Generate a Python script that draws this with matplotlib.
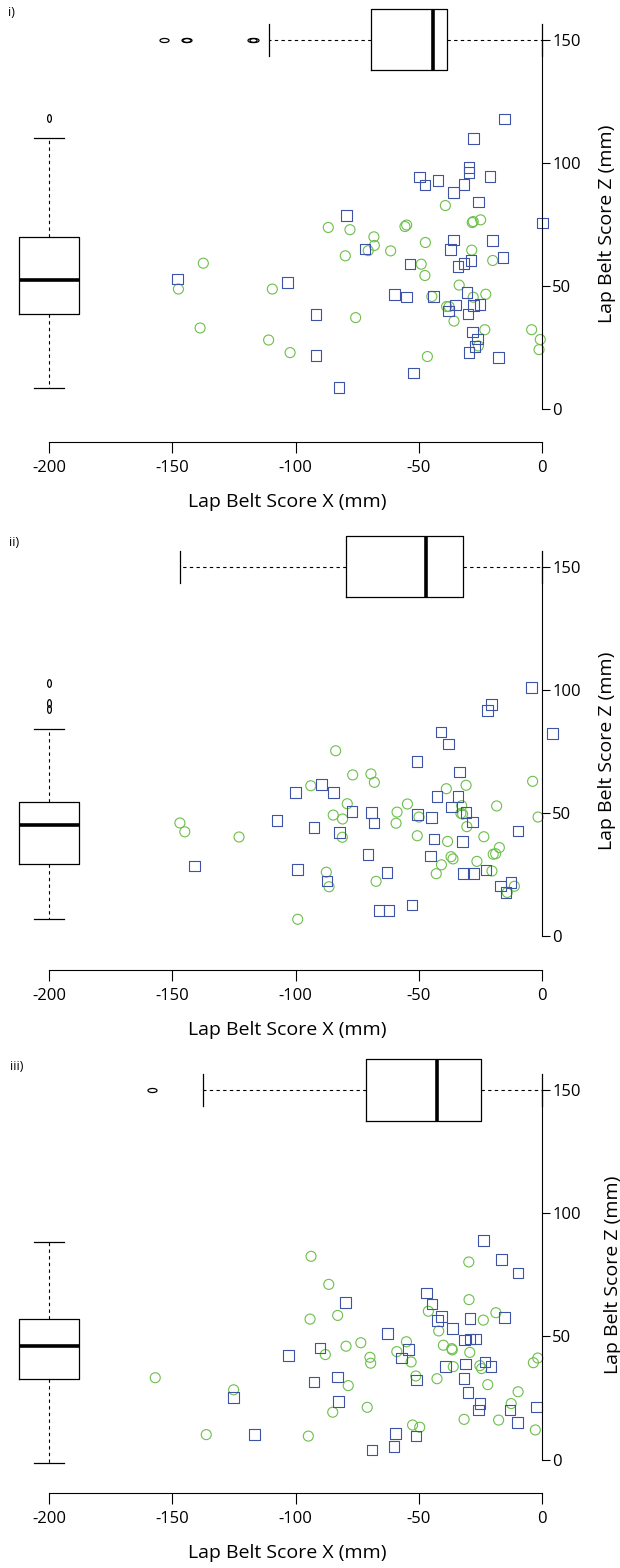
import numpy as np
import matplotlib.pyplot as plt
from matplotlib.path import Path

plt.rcParams['font.family'] = ['Open Sans', 'DejaVu Sans']
plt.rcParams['axes.unicode_minus'] = False

# ---- data (mm) ----
# panel i
x_sq_1 = [-79.4, -147.8, -103.2, -91.7, -91.7, -82.4, -71.8, -15.3, -27.9, -29.6, -29.6, -49.6, -47.5, -42.2,
          -31.6, -21.1, -36.0, -25.8, 0.3, -35.8, -37.2, -20.0, -15.9, -53.5, -28.8, -31.6, -34.0, -59.9,
          -54.9, -44.1, -30.5, -35.0, -38.0, -30.1, -27.9, -25.2, -28.3, -26.1, -27.2, -29.6, -17.7, -52.2]
z_sq_1 = [78.5, 52.8, 51.3, 38.3, 21.8, 8.7, 64.9, 117.8, 109.8, 98.1, 96.1, 94.2, 90.9, 92.7,
          91.1, 94.3, 87.9, 84.0, 75.6, 68.6, 64.8, 68.4, 61.4, 58.8, 60.3, 59.1, 57.8, 46.6,
          45.5, 45.7, 47.4, 42.2, 39.8, 38.6, 42.0, 42.4, 31.3, 28.5, 25.3, 23.0, 20.9, 14.6]
x_ci_1 = [-86.7, -77.9, -79.8, -137.4, -147.5, -109.4, -75.6, -138.7, -110.9, -102.2, -39.2, -55.6, -54.9,
          -27.9, -24.9, -28.3, -68.2, -68.0, -70.5, -61.4, -47.3, -28.5, -20.0, -49.0, -47.5, -33.6, -44.7,
          -27.9, -22.8, -38.7, -37.7, -35.7, -23.2, -25.8, -4.2, -0.7, -1.2, -46.5]
z_ci_1 = [73.7, 72.8, 62.2, 59.2, 48.7, 48.7, 37.1, 32.9, 28.0, 22.9, 82.6, 74.1, 74.7,
          76.1, 76.8, 75.7, 69.9, 66.4, 64.3, 64.2, 67.6, 64.5, 60.3, 58.8, 54.2, 50.3, 45.7,
          45.4, 46.6, 41.6, 41.6, 35.7, 32.2, 25.6, 32.2, 28.2, 24.1, 21.3]
box_x_1 = dict(whislo=-110.8, q1=-69.2, med=-44.3, q3=-38.5, whishi=0.0,
               fliers=[-153.5, -144.6, -143.9, -117.7, -117.0])
box_z_1 = dict(whislo=8.5, q1=38.6, med=52.4, q3=69.9, whishi=110.2, fliers=[118.3])

# panel ii
x_sq_2 = [-89.5, -100.1, -84.5, -77.0, -107.5, -92.5, -82.2, -140.9, -99.1, -87.3, -4.2, -20.4, -22.0, 4.2,
          -41.0, -38.0, -50.7, -33.5, -42.6, -34.1, -36.6, -30.8, -69.1, -68.2, -50.6, -44.9, -28.1, -9.7,
          -43.8, -32.3, -70.6, -45.2, -62.9, -31.9, -27.9, -22.8, -16.8, -12.5, -14.6, -66.2, -62.1, -52.7]
z_sq_2 = [61.6, 58.2, 58.2, 50.5, 46.8, 44.0, 42.1, 28.5, 26.9, 22.3, 100.8, 94.1, 91.5, 82.3,
          82.8, 78.0, 70.9, 66.5, 56.7, 56.6, 52.4, 50.2, 50.2, 45.8, 49.4, 48.2, 46.2, 42.6,
          39.3, 38.3, 33.0, 32.5, 25.7, 25.3, 25.3, 26.8, 20.3, 21.8, 17.6, 10.3, 10.3, 12.6]
x_ci_2 = [-83.7, -76.8, -93.8, -79.0, -84.7, -80.9, -146.9, -144.9, -122.9, -81.0, -87.5, -86.4, -99.1,
          -69.4, -68.0, -3.8, -38.8, -30.8, -54.6, -58.8, -59.2, -49.9, -32.6, -32.9, -32.2, -30.5, -18.4,
          -1.6, -50.6, -38.3, -23.6, -17.3, -18.8, -19.8, -36.9, -36.1, -40.8, -42.9, -26.4, -20.3, -67.3,
          -11.2, -14.1]
z_ci_2 = [75.2, 65.4, 61.0, 53.7, 49.1, 47.5, 45.9, 42.3, 40.2, 40.1, 25.9, 20.0, 6.8,
          65.8, 62.4, 62.8, 59.8, 61.2, 53.6, 50.3, 45.8, 48.3, 52.9, 49.8, 49.5, 44.4, 52.8,
          48.3, 40.7, 38.4, 40.3, 35.9, 33.4, 33.2, 32.2, 31.3, 28.9, 25.3, 30.3, 26.4, 22.2,
          20.2, 17.7]
box_x_2 = dict(whislo=-146.9, q1=-79.6, med=-47.1, q3=-32.0, whishi=0.0, fliers=[])
box_z_2 = dict(whislo=6.8, q1=29.2, med=45.1, q3=54.5, whishi=83.9, fliers=[92.3, 94.4, 102.7])

# panel iii
x_sq_3 = [-79.6, -90.1, -102.9, -92.5, -83.0, -125.2, -82.6, -116.7, -23.8, -16.5, -9.7, -46.8, -44.6, -40.7,
          -42.3, -36.4, -29.2, -15.3, -62.6, -31.5, -29.2, -26.8, -54.1, -56.9, -39.1, -31.1, -23.2, -20.7,
          -51.0, -31.6, -30.0, -25.2, -25.7, -12.9, -2.2, -10.0, -59.5, -51.2, -60.0, -69.0]
z_sq_3 = [63.8, 45.3, 42.3, 31.5, 33.5, 25.1, 23.6, 10.2, 89.0, 81.3, 75.7, 67.6, 63.1, 58.1,
          56.5, 53.1, 57.3, 57.6, 51.2, 48.5, 49.0, 49.0, 44.7, 41.2, 37.8, 38.8, 39.6, 37.7,
          32.2, 32.8, 27.1, 22.8, 20.1, 20.1, 21.3, 15.1, 10.6, 9.5, 5.2, 3.9]
x_ci_3 = [-93.7, -86.5, -94.1, -82.9, -79.5, -87.9, -156.9, -125.1, -78.6, -84.9, -136.2, -94.8, -29.7,
          -29.6, -46.1, -23.8, -18.7, -41.9, -73.5, -55.0, -58.9, -69.8, -69.5, -53.1, -40.0, -36.6, -36.4,
          -29.3, -36.0, -25.2, -24.5, -3.5, -1.7, -51.2, -42.6, -22.0, -9.7, -12.5, -70.9, -31.6, -17.6,
          -2.7, -52.5, -49.6]
z_ci_3 = [82.5, 71.1, 57.0, 58.5, 46.0, 42.6, 33.2, 28.3, 30.0, 19.2, 10.1, 9.5, 80.2,
          64.9, 60.2, 56.6, 59.6, 52.2, 47.4, 47.8, 43.8, 41.5, 39.1, 39.6, 46.4, 45.0, 44.5,
          43.5, 37.7, 38.1, 36.9, 39.3, 41.2, 33.9, 32.8, 30.4, 27.5, 22.7, 21.2, 16.3, 16.0,
          12.0, 14.0, 13.1]
box_x_3 = dict(whislo=-137.6, q1=-71.4, med=-42.7, q3=-24.9, whishi=0.0, fliers=[-158.3])
box_z_3 = dict(whislo=-1.3, q1=32.6, med=46.1, q3=56.9, whishi=88.3, fliers=[])

panels = [
    ("i)", x_sq_1, z_sq_1, x_ci_1, z_ci_1, box_x_1, box_z_1),
    ("ii)", x_sq_2, z_sq_2, x_ci_2, z_ci_2, box_x_2, box_z_2),
    ("iii)", x_sq_3, z_sq_3, x_ci_3, z_ci_3, box_x_3, box_z_3),
]

# ---- layout (pixels of the 620x1568 figure) ----
W, H = 620, 1568
sx, sz = 2.465, 2.463          # px per mm
x0_px = 542                     # where x = 0
zero_px = [409, 936, 1459.5]    # where z = 0
xaxis_px = [442, 970, 1493]     # x axis line
ylab_px = [607, 607, 613]
tag_px = [(8, 13), (9, 542), (10, 1067)]
x_lo, x_hi, z_hi = -219, 12, 166

green = '#6cbf4a'
blue = '#3c53a6'

t = np.linspace(0, 2 * np.pi, 41)
flat_oval = Path(np.column_stack([np.cos(t), 0.45 * np.sin(t)]), closed=True)
tall_oval = Path(np.column_stack([0.5 * np.cos(t), np.sin(t)]), closed=True)

fig = plt.figure(figsize=(W / 100, H / 100), dpi=100)

for i, (tag, xs, zs, xc, zc, bx, bz) in enumerate(panels):
    z_lo = -(xaxis_px[i] - zero_px[i]) / sz
    left = x0_px + x_lo * sx
    right = x0_px + x_hi * sx
    top = zero_px[i] - z_hi * sz
    ax = fig.add_axes([left / W, 1 - xaxis_px[i] / H, (right - left) / W, (xaxis_px[i] - top) / H])
    ax.set_xlim(x_lo, x_hi)
    ax.set_ylim(z_lo, z_hi)

    ax.scatter(xc, zc, s=52, marker='o', facecolors='none', edgecolors=green, linewidths=0.8, clip_on=False)
    ax.scatter(xs, zs, s=58, marker='s', facecolors='none', edgecolors=blue, linewidths=0.8, clip_on=False)

    common = dict(showfliers=True, manage_ticks=False, patch_artist=False,
                  boxprops=dict(color='black', lw=0.9),
                  whiskerprops=dict(color='black', lw=0.8, linestyle=(0, (3, 3))),
                  capprops=dict(color='black', lw=0.9),
                  medianprops=dict(color='black', lw=2.6))
    ax.bxp([bx], positions=[150], widths=25, capwidths=[13], vert=False,
           flierprops=dict(marker=flat_oval, markersize=6.5, markerfacecolor='none',
                           markeredgecolor='black', markeredgewidth=0.9), **common)
    ax.bxp([bz], positions=[-200], widths=24, capwidths=[12], vert=True,
           flierprops=dict(marker=tall_oval, markersize=5.5, markerfacecolor='none',
                           markeredgecolor='black', markeredgewidth=0.9), **common)

    ax.spines['left'].set_visible(False)
    ax.spines['top'].set_visible(False)
    ax.spines['bottom'].set_bounds(-200, 0)
    ax.spines['right'].set_position(('data', 0))
    ax.spines['right'].set_bounds(0, 150)
    ax.yaxis.set_ticks_position('right')
    ax.set_xticks([-200, -150, -100, -50, 0])
    ax.set_yticks([0, 50, 100, 150])
    ax.tick_params(axis='x', direction='out', length=8, pad=5, labelsize=12)
    ax.tick_params(axis='y', direction='out', length=5.5, pad=2, labelsize=12)
    ax.set_xlabel('Lap Belt Score X (mm)', fontsize=14, labelpad=12)

    fig.text(ylab_px[i] / W, 1 - (zero_px[i] - 75 * sz) / H, 'Lap Belt Score Z (mm)',
             rotation=90, ha='center', va='center', fontsize=14)
    fig.text(tag_px[i][0] / W, 1 - tag_px[i][1] / H, tag, ha='left', va='center', fontsize=9)

fig.savefig('out.png', dpi=100)
